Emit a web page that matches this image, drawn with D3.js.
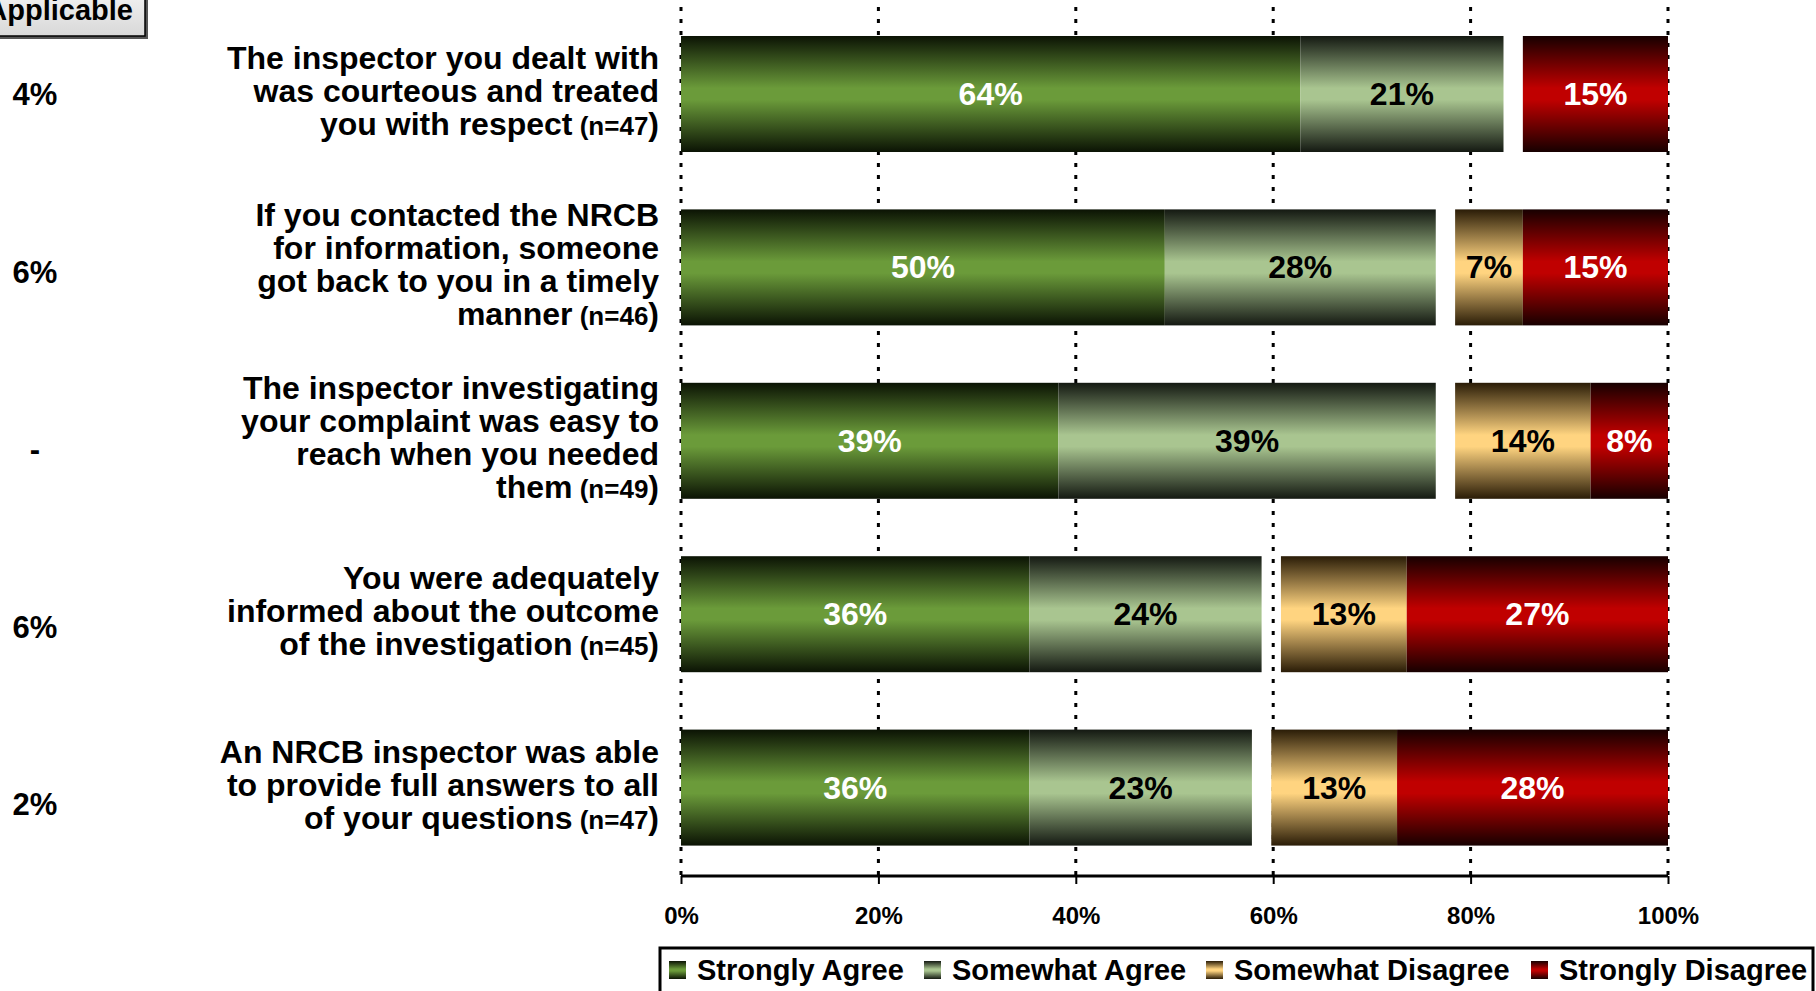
<!DOCTYPE html>
<html>
<head>
<meta charset="utf-8">
<script src="https://cdn.jsdelivr.net/npm/d3@7"></script>
<style>
  html, body { margin: 0; padding: 0; background: #fff; overflow: hidden; }
  svg { display: block; font-family: "Liberation Sans", Arial, sans-serif; font-weight: bold; }
</style>
</head>
<body>
<svg id="chart" width="1816" height="991"></svg>
<script>
const categories = [
  ["The inspector you dealt with", "was courteous and treated", "you with respect"],
  ["If you contacted the NRCB", "for information, someone", "got back to you in a timely", "manner"],
  ["The inspector investigating", "your complaint was easy to", "reach when you needed", "them"],
  ["You were adequately", "informed about the outcome", "of the investigation"],
  ["An NRCB inspector was able", "to provide full answers to all", "of your questions"]
];
const sampleSizes = [47, 46, 49, 45, 47];
const notApplicable = ["4%", "6%", "-", "6%", "2%"];

const stronglyAgree = [64, 50, 39, 36, 36];
const somewhatAgree = [21, 28, 39, 24, 23];
const somewhatDisagree = [0, 7, 14, 13, 13];
const stronglyDisagree = [15, 15, 8, 27, 28];
const spacer = 2; // blank segment between agree and disagree

const tickValues = [0, 20, 40, 60, 80, 100];
const seriesNames = ["Strongly Agree", "Somewhat Agree", "Somewhat Disagree", "Strongly Disagree"];

const svg = d3.select("#chart");

const colors = {
  sa: { mid: "#6b9b3a", edge: "#0b1304", text: "#fff" },
  wa: { mid: "#a9c590", edge: "#141912", text: "#000" },
  gap: null,
  wd: { mid: "#ffd480", edge: "#2a1c07", text: "#000" },
  sd: { mid: "#c00000", edge: "#170000", text: "#fff" }
};

const defs = svg.append("defs");
Object.entries(colors).forEach(([k, c]) => {
  if (!c) return;
  const g = defs.append("linearGradient").attr("id", "grad-" + k)
    .attr("x1", 0).attr("y1", 0).attr("x2", 0).attr("y2", 1);
  g.append("stop").attr("offset", "0%").attr("stop-color", c.edge);
  g.append("stop").attr("offset", "45%").attr("stop-color", c.mid);
  g.append("stop").attr("offset", "55%").attr("stop-color", c.mid);
  g.append("stop").attr("offset", "100%").attr("stop-color", c.edge);
});
const boxGrad = defs.append("linearGradient").attr("id", "grad-box")
  .attr("x1", 0).attr("y1", 0).attr("x2", 0).attr("y2", 1);
boxGrad.append("stop").attr("offset", "0%").attr("stop-color", "#ffffff");
boxGrad.append("stop").attr("offset", "100%").attr("stop-color", "#d8d8d8");

const rows = categories.map((c, i) => ({
  idx: i,
  sa: stronglyAgree[i],
  wa: somewhatAgree[i],
  gap: spacer,
  wd: somewhatDisagree[i],
  sd: stronglyDisagree[i]
}));

const keys = ["sa", "wa", "gap", "wd", "sd"];
const stacked = d3.stack().keys(keys).offset(d3.stackOffsetExpand)(rows);

const x = d3.scaleLinear().domain([0, 1]).range([681, 1668]);
const y = d3.scaleBand().domain(d3.range(categories.length))
  .range([7.3, 874.3]).paddingInner(0.331).paddingOuter(0.1655);
const yNA = d3.scalePoint().domain(d3.range(categories.length)).range([94, 804]);

const axisY = 876;

// dotted gridlines
svg.append("g").selectAll("line").data(tickValues).enter().append("line")
  .attr("x1", d => x(d / 100)).attr("x2", d => x(d / 100))
  .attr("y1", 7).attr("y2", axisY)
  .attr("stroke", "#000").attr("stroke-width", 3)
  .attr("stroke-dasharray", "4,8");

// bars
const layers = svg.append("g").selectAll("g")
  .data(stacked.filter(s => s.key !== "gap"))
  .enter().append("g")
  .attr("fill", d => `url(#grad-${d.key})`);

layers.selectAll("rect").data(d => d.map(p => ({ p, key: d.key })))
  .enter().append("rect")
  .attr("x", d => x(d.p[0]))
  .attr("width", d => x(d.p[1]) - x(d.p[0]))
  .attr("y", d => y(d.p.data.idx))
  .attr("height", y.bandwidth());

// value labels
layers.selectAll("text").data(d => d.map(p => ({ p, key: d.key })).filter(d => d.p.data[d.key] > 0))
  .enter().append("text")
  .attr("x", d => (x(d.p[0]) + x(d.p[1])) / 2)
  .attr("y", d => y(d.p.data.idx) + y.bandwidth() / 2 + 11)
  .attr("text-anchor", "middle")
  .attr("font-size", 32)
  .attr("fill", d => colors[d.key].text)
  .text(d => d.p.data[d.key] + "%");

// x axis
const axis = svg.append("g").attr("transform", `translate(0,${axisY})`)
  .call(d3.axisBottom(x).tickValues(tickValues.map(t => t / 100)).tickSize(8)
    .tickFormat(d => Math.round(d * 100) + "%"));
axis.select(".domain").attr("stroke", "#000").attr("stroke-width", 3).attr("d", `M${x(0)},0H${x(1)}`);
axis.selectAll(".tick line").attr("stroke", "#000").attr("stroke-width", 2);
axis.selectAll(".tick text").attr("font-size", 24).attr("font-weight", "bold")
  .attr("font-family", "Liberation Sans, Arial, sans-serif").attr("fill", "#000")
  .attr("dy", null).attr("y", 48);

// category labels
const lineH = 33;
const labels = svg.append("g").selectAll("text").data(categories).enter().append("text")
  .attr("text-anchor", "end").attr("font-size", 32).attr("fill", "#000");
labels.each(function (lines, i) {
  const t = d3.select(this);
  const cy = y(i) + y.bandwidth() / 2 - 3;
  lines.forEach((ln, j) => {
    const ty = cy + (j - (lines.length - 1) / 2) * lineH + 11;
    t.append("tspan").attr("x", 659).attr("y", ty).text(ln);
    if (j === lines.length - 1) {
      t.append("tspan").attr("font-size", 26).text(" (n=" + sampleSizes[i]);
      t.append("tspan").attr("font-size", 32).text(")");
    }
  });
});

// not applicable column
svg.append("g").selectAll("text").data(notApplicable).enter().append("text")
  .attr("x", 35).attr("y", (d, i) => yNA(i) + 11)
  .attr("text-anchor", "middle").attr("font-size", 31).attr("fill", "#000")
  .text(d => d);

const hdr = svg.append("g");
hdr.append("rect").attr("x", -100).attr("y", -30).attr("width", 248).attr("height", 69).attr("fill", "#555");
hdr.append("rect").attr("x", -100).attr("y", -30).attr("width", 245).attr("height", 66)
  .attr("fill", "url(#grad-box)").attr("stroke", "#000").attr("stroke-width", 1.5);
hdr.append("text").attr("x", 133).attr("y", 20).attr("text-anchor", "end")
  .attr("font-size", 29).attr("fill", "#000").text("Not Applicable");

// legend
const legend = svg.append("g");
legend.append("rect").attr("x", 660).attr("y", 948).attr("width", 1153).attr("height", 60)
  .attr("fill", "#fff").attr("stroke", "#000").attr("stroke-width", 3);
const legendX = [669, 924, 1206, 1531];
const legendKeys = ["sa", "wa", "wd", "sd"];
const items = legend.selectAll("g.item").data(seriesNames).enter().append("g")
  .attr("transform", (d, i) => `translate(${legendX[i]},961)`);
items.append("rect").attr("width", 17).attr("height", 18)
  .attr("fill", (d, i) => `url(#grad-${legendKeys[i]})`);
items.append("text").attr("x", 28).attr("y", 19).attr("font-size", 29).attr("fill", "#000")
  .text(d => d);
</script>
</body>
</html>
